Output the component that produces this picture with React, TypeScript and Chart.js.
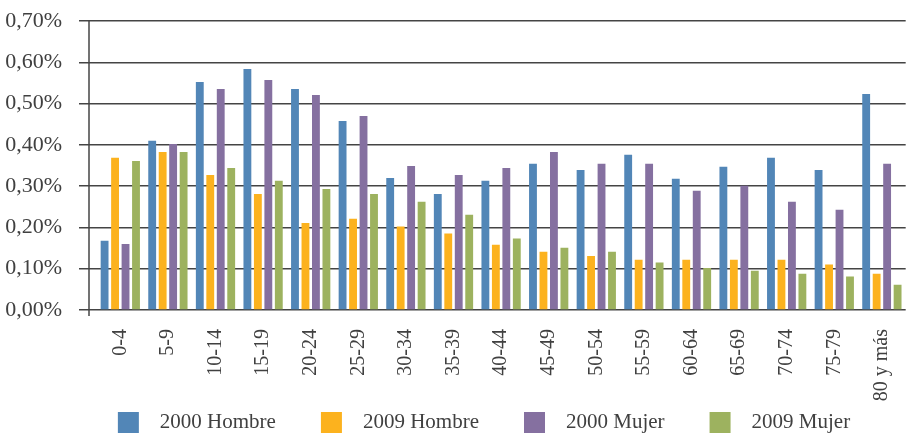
import React, { useEffect, useRef } from "react";
import { Chart, registerables } from "chart.js";

Chart.register(...registerables);

const categories = ["0-4", "5-9", "10-14", "15-19", "20-24", "25-29", "30-34", "35-39", "40-44", "45-49", "50-54", "55-59", "60-64", "65-69", "70-74", "75-79", "80 y más"];
const hombre2000 = [0.168, 0.410, 0.552, 0.584, 0.535, 0.458, 0.320, 0.281, 0.313, 0.354, 0.339, 0.376, 0.318, 0.347, 0.369, 0.339, 0.523];
const hombre2009 = [0.369, 0.383, 0.327, 0.281, 0.211, 0.221, 0.202, 0.185, 0.158, 0.141, 0.131, 0.122, 0.122, 0.122, 0.122, 0.110, 0.088];
const mujer2000 = [0.160, 0.402, 0.535, 0.557, 0.521, 0.470, 0.349, 0.327, 0.344, 0.383, 0.354, 0.354, 0.289, 0.301, 0.262, 0.243, 0.354];
const mujer2009 = [0.361, 0.383, 0.344, 0.313, 0.293, 0.281, 0.262, 0.231, 0.173, 0.151, 0.141, 0.115, 0.102, 0.095, 0.088, 0.081, 0.061];
const seriesLabels = ["2000 Hombre", "2009 Hombre", "2000 Mujer", "2009 Mujer"];
const seriesColors = ["#5286B7", "#FCB21E", "#8570A0", "#9DB25F"];
const yTicks = [0, 0.1, 0.2, 0.3, 0.4, 0.5, 0.6, 0.7];

const FONT = "'Liberation Serif', 'Times New Roman', serif";
const TEXT = "#404040";
const GRID = "#444444";

const axisLinePlugin = {
  id: "axisLine",
  afterLayout(chart: any) {
    // widen label clip areas so rotated / long tick labels are not cut
    const y = chart.scales.y;
    const x = chart.scales.x;
    if (y) y.left = 0;
    if (x) x.bottom = chart.height;
  },
  afterDraw(chart: any) {
    const { ctx, chartArea } = chart;
    const x = chartArea.left - 7.5;
    ctx.save();
    ctx.strokeStyle = GRID;
    ctx.lineWidth = 1.5;
    ctx.beginPath();
    ctx.moveTo(x, chartArea.top);
    ctx.lineTo(x, chartArea.bottom + 6);
    ctx.stroke();
    ctx.restore();
  },
};

export default function App() {
  const ref = useRef<HTMLCanvasElement>(null);
  useEffect(() => {
    if (!ref.current) return;
    const series = [hombre2000, hombre2009, mujer2000, mujer2009];
    const chart = new Chart(ref.current, {
      type: "bar",
      data: {
        labels: categories,
        datasets: series.map((d, i) => ({
          label: seriesLabels[i],
          data: d,
          backgroundColor: seriesColors[i],
          borderWidth: 0,
          barPercentage: 0.75,
          categoryPercentage: 0.88,
        })),
      },
      options: {
        responsive: false,
        animation: false,
        layout: { padding: { left: 47, right: 4, top: 21, bottom: 0 } },
        plugins: {
          tooltip: { enabled: false },
          legend: {
            position: "bottom",
            labels: {
              boxWidth: 21,
              boxHeight: 21,
              padding: 45,
              color: TEXT,
              font: { family: FONT, size: 21 },
              generateLabels: (c: any) =>
                Chart.defaults.plugins.legend.labels
                  .generateLabels(c)
                  .map((l: any) => ({ ...l, text: "  " + l.text, lineWidth: 0 })),
            },
          },
        },
        scales: {
          x: {
            grid: { display: false, drawTicks: false },
            border: { display: false },
            ticks: {
              autoSkip: false,
              maxRotation: 90,
              minRotation: 90,
              padding: 19,
              color: TEXT,
              font: { family: FONT, size: 20 },
            },
            afterFit: (s: any) => {
              s.height = 57;
            },
          },
          y: {
            min: 0,
            max: 0.7,
            afterBuildTicks: (s: any) => {
              s.ticks = yTicks.map((v) => ({ value: v }));
            },
            grid: { color: GRID, lineWidth: 1.5, tickLength: 17.5, tickColor: GRID },
            border: { display: false },
            ticks: {
              padding: 17,
              color: TEXT,
              font: { family: FONT, size: 22 },
              callback: (v: any) => Number(v).toFixed(2).replace(".", ",") + "%",
            },
            afterFit: (s: any) => {
              s.width = 49.5;
              s.paddingTop = 0;
              s.paddingBottom = 0;
            },
          },
        },
      },
      plugins: [axisLinePlugin],
    });
    return () => chart.destroy();
  }, []);
  return (
    <div style={{ position: "fixed", left: 0, top: 0, width: 917, height: 433, overflow: "hidden", background: "#fff" }}>
      <canvas ref={ref} width={925} height={443} style={{ display: "block", width: 925, height: 443 }} />
    </div>
  );
}
